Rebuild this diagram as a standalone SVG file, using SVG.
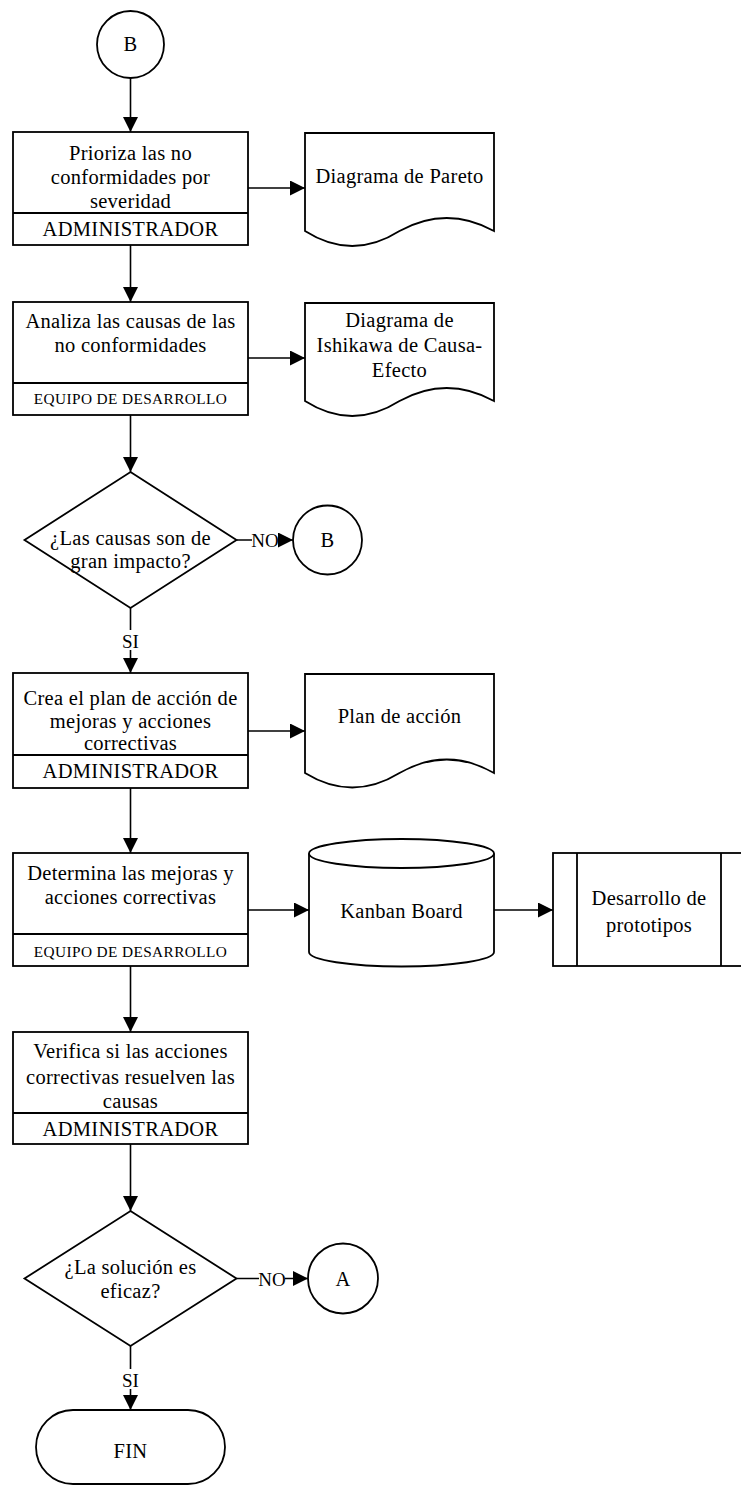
<svg xmlns="http://www.w3.org/2000/svg" width="741" height="1486" viewBox="0 0 741 1486">
  <defs>
    <marker id="arrow" markerUnits="userSpaceOnUse" markerWidth="16" markerHeight="15" refX="15" refY="7.5" orient="auto">
      <path d="M0,0 L15,7.5 L0,15 Z" fill="#000"/>
    </marker>
  </defs>
  <style>
    .shape { fill: #fff; stroke: #000; stroke-width: 1.8; }
    .div { fill: none; stroke: #000; stroke-width: 1.8; }
    .edge { fill: none; stroke: #000; stroke-width: 1.6; marker-end: url(#arrow); }
    text { font-family: "Liberation Serif", "Times New Roman", serif; fill: #000; text-anchor: middle; }
    .t { font-size: 20.5px; letter-spacing: 0.3px; }
    .s { font-size: 15.3px; letter-spacing: 0.4px; }
    .lbl { font-size: 19px; }
  </style>

  <!-- connectors -->
  <g id="connectors">
    <line class="edge" x1="130.5" y1="78" x2="130.5" y2="132"/>
    <line class="edge" x1="248" y1="188" x2="305" y2="188"/>
    <line class="edge" x1="130.5" y1="245" x2="130.5" y2="302"/>
    <line class="edge" x1="248" y1="358" x2="305" y2="358"/>
    <line class="edge" x1="130.5" y1="415" x2="130.5" y2="472"/>
    <line class="edge" x1="236.5" y1="540" x2="293" y2="540"/>
    <rect x="252" y="530" width="26" height="20" fill="#fff"/>
    <text class="lbl" x="265" y="547">NO</text>
    <line class="edge" x1="130.5" y1="608" x2="130.5" y2="673"/>
    <rect x="120" y="630" width="21" height="20" fill="#fff"/>
    <text class="lbl" x="130.5" y="648">SI</text>
    <line class="edge" x1="248" y1="731" x2="305" y2="731"/>
    <line class="edge" x1="130.5" y1="788" x2="130.5" y2="853"/>
    <line class="edge" x1="248" y1="910" x2="309" y2="910"/>
    <line class="edge" x1="494" y1="910" x2="553" y2="910"/>
    <line class="edge" x1="130.5" y1="966" x2="130.5" y2="1032"/>
    <line class="edge" x1="130.5" y1="1144" x2="130.5" y2="1211"/>
    <line class="edge" x1="236.5" y1="1278.5" x2="308" y2="1278.5"/>
    <rect x="259" y="1269" width="26" height="20" fill="#fff"/>
    <text class="lbl" x="272" y="1286">NO</text>
    <line class="edge" x1="130.5" y1="1346" x2="130.5" y2="1410"/>
    <rect x="120" y="1369" width="21" height="20" fill="#fff"/>
    <text class="lbl" x="130.5" y="1387">SI</text>
  </g>

  <!-- off-page connector B (start) -->
  <g id="start-b">
    <circle class="shape" cx="130.5" cy="44.5" r="33.5"/>
    <text class="t" x="130.5" y="51">B</text>
  </g>

  <!-- step 1 -->
  <g id="prioriza">
    <rect class="shape" x="13" y="132" width="235" height="113"/>
    <line class="div" x1="13" y1="213" x2="248" y2="213"/>
    <text class="t" x="130.5" y="160">Prioriza las no</text>
    <text class="t" x="130.5" y="184">conformidades por</text>
    <text class="t" x="130.5" y="208">severidad</text>
    <text class="t" x="130.5" y="236">ADMINISTRADOR</text>
  </g>

  <g id="doc-pareto">
    <path class="shape" d="M305,133 H494 V231 Q446.75,205 399.5,231 Q352.25,261 305,231 Z"/>
    <text class="t" x="399.5" y="183">Diagrama de Pareto</text>
  </g>

  <!-- step 2 -->
  <g id="analiza">
    <rect class="shape" x="13" y="302" width="235" height="113"/>
    <line class="div" x1="13" y1="383" x2="248" y2="383"/>
    <text class="t" x="130.5" y="328">Analiza las causas de las</text>
    <text class="t" x="130.5" y="352">no conformidades</text>
    <text class="s" x="130.5" y="404">EQUIPO DE DESARROLLO</text>
  </g>

  <g id="doc-ishikawa">
    <path class="shape" d="M305,303 H494 V401 Q446.75,375 399.5,401 Q352.25,431 305,401 Z"/>
    <text class="t" x="399.5" y="327">Diagrama de</text>
    <text class="t" x="399.5" y="352">Ishikawa de Causa-</text>
    <text class="t" x="399.5" y="377">Efecto</text>
  </g>

  <!-- decision 1 -->
  <g id="decision-impacto">
    <polygon class="shape" points="130.5,472 236.5,540 130.5,608 24.5,540"/>
    <text class="t" x="130.5" y="545">¿Las causas son de</text>
    <text class="t" x="130.5" y="568">gran impacto?</text>
  </g>

  <g id="conn-b">
    <circle class="shape" cx="327.5" cy="540" r="34.5"/>
    <text class="t" x="327.5" y="547">B</text>
  </g>

  <!-- step 3 -->
  <g id="crea-plan">
    <rect class="shape" x="13" y="673" width="235" height="115"/>
    <line class="div" x1="13" y1="755" x2="248" y2="755"/>
    <text class="t" x="130.5" y="705">Crea el plan de acción de</text>
    <text class="t" x="130.5" y="728">mejoras y acciones</text>
    <text class="t" x="130.5" y="750">correctivas</text>
    <text class="t" x="130.5" y="778">ADMINISTRADOR</text>
  </g>

  <g id="doc-plan">
    <path class="shape" d="M305,674 H494 V773 Q446.75,746 399.5,773 Q352.25,802 305,773 Z"/>
    <text class="t" x="399.5" y="723">Plan de acción</text>
  </g>

  <!-- step 4 -->
  <g id="determina">
    <rect class="shape" x="13" y="853" width="235" height="113"/>
    <line class="div" x1="13" y1="934" x2="248" y2="934"/>
    <text class="t" x="130.5" y="880">Determina las mejoras y</text>
    <text class="t" x="130.5" y="904">acciones correctivas</text>
    <text class="s" x="130.5" y="957">EQUIPO DE DESARROLLO</text>
  </g>

  <g id="kanban">
    <path class="shape" d="M309,853.5 A92.5,14.5 0 0 1 494,853.5 V952 A92.5,14.5 0 0 1 309,952 Z"/>
    <path class="div" d="M309,853.5 A92.5,14.5 0 0 0 494,853.5"/>
    <text class="t" x="401.5" y="918">Kanban Board</text>
  </g>

  <g id="desarrollo">
    <rect class="shape" x="553" y="853" width="192" height="113"/>
    <line class="div" x1="577" y1="853" x2="577" y2="966"/>
    <line class="div" x1="721" y1="853" x2="721" y2="966"/>
    <text class="t" x="649" y="905">Desarrollo de</text>
    <text class="t" x="649" y="932">prototipos</text>
  </g>

  <!-- step 5 -->
  <g id="verifica">
    <rect class="shape" x="13" y="1032" width="235" height="112"/>
    <line class="div" x1="13" y1="1113" x2="248" y2="1113"/>
    <text class="t" x="130.5" y="1058">Verifica si las acciones</text>
    <text class="t" x="130.5" y="1084">correctivas resuelven las</text>
    <text class="t" x="130.5" y="1108">causas</text>
    <text class="t" x="130.5" y="1136">ADMINISTRADOR</text>
  </g>

  <!-- decision 2 -->
  <g id="decision-eficaz">
    <polygon class="shape" points="130.5,1211 236.5,1278.5 130.5,1346 24.5,1278.5"/>
    <text class="t" x="130.5" y="1274">¿La solución es</text>
    <text class="t" x="130.5" y="1298">eficaz?</text>
  </g>

  <g id="conn-a">
    <circle class="shape" cx="343" cy="1278.5" r="35"/>
    <text class="t" x="343" y="1286">A</text>
  </g>

  <!-- end -->
  <g id="fin">
    <rect class="shape" x="36" y="1410" width="189" height="74" rx="37" ry="37"/>
    <text class="t" x="130.5" y="1458">FIN</text>
  </g>
</svg>
